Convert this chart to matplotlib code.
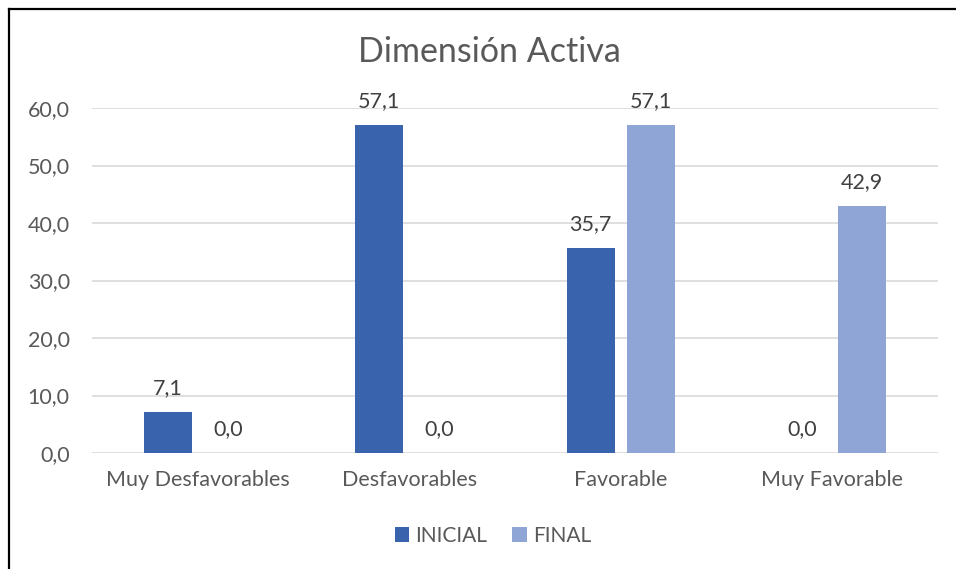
import numpy as np
import matplotlib as mpl
mpl.use('Agg')
import matplotlib.pyplot as plt
from matplotlib.lines import Line2D

categories = ['Muy Desfavorables', 'Desfavorables', 'Favorable', 'Muy Favorable']
inicial = [7.1, 57.1, 35.7, 0.0]
final = [0.0, 0.0, 57.1, 42.9]
yticks = [0, 10, 20, 30, 40, 50, 60]

c_ini = '#3A63AD'
c_fin = '#8FA5D5'
grey = '#595959'

plt.rcParams['font.family'] = ['Lato', 'DejaVu Sans']

W, H = 956, 569
fig = plt.figure(figsize=(W / 100, H / 100), dpi=100)
ax = fig.add_axes([92 / W, 1 - 453 / H, (938 - 92) / W, (453 - 108) / H])

x = np.arange(len(categories))
bw = 0.227
off = 0.142
b1 = ax.bar(x - off, inicial, bw, color=c_ini, label='INICIAL', zorder=3)
b2 = ax.bar(x + off, final, bw, color=c_fin, label='FINAL', zorder=3)

for bars, vals in ((b1, inicial), (b2, final)):
    for rect, v in zip(bars, vals):
        ax.annotate(f'{v:.1f}'.replace('.', ','),
                    (rect.get_x() + rect.get_width() / 2, v),
                    xytext=(0, 10), textcoords='offset points',
                    ha='center', va='bottom', fontsize=15.5, color='#404040')

ax.set_xlim(-0.5, 3.5)
ax.set_ylim(0, 60)
ax.set_yticks(yticks)
ax.set_yticklabels([f'{t:.1f}'.replace('.', ',') for t in yticks])
ax.set_xticks(x)
ax.set_xticklabels(categories)
ax.tick_params(axis='both', length=0, labelsize=15.5, labelcolor=grey)
ax.tick_params(axis='y', pad=16)
ax.tick_params(axis='x', pad=12)
ax.grid(axis='y', color='#D9D9D9', linewidth=1.2, zorder=0)
for s in ax.spines.values():
    s.set_visible(False)

fig.text(489 / W, 1 - 52 / H, 'Dimensión Activa', ha='center', va='center',
         fontsize=24.5, color=grey)

fig.legend(handles=[b1, b2], loc='center', bbox_to_anchor=(493 / W, 1 - 536 / H),
           ncol=2, frameon=False, fontsize=15, labelcolor=grey,
           handlelength=0.7, handleheight=0.7, handletextpad=0.3, columnspacing=1.2)

fig.add_artist(Line2D([9 / W, 9 / W], [0, 1 - 9 / H], color='black', linewidth=1.6))
fig.add_artist(Line2D([9 / W, 1], [1 - 9 / H, 1 - 9 / H], color='black', linewidth=1.6))

plt.savefig('out.png', dpi=100)
